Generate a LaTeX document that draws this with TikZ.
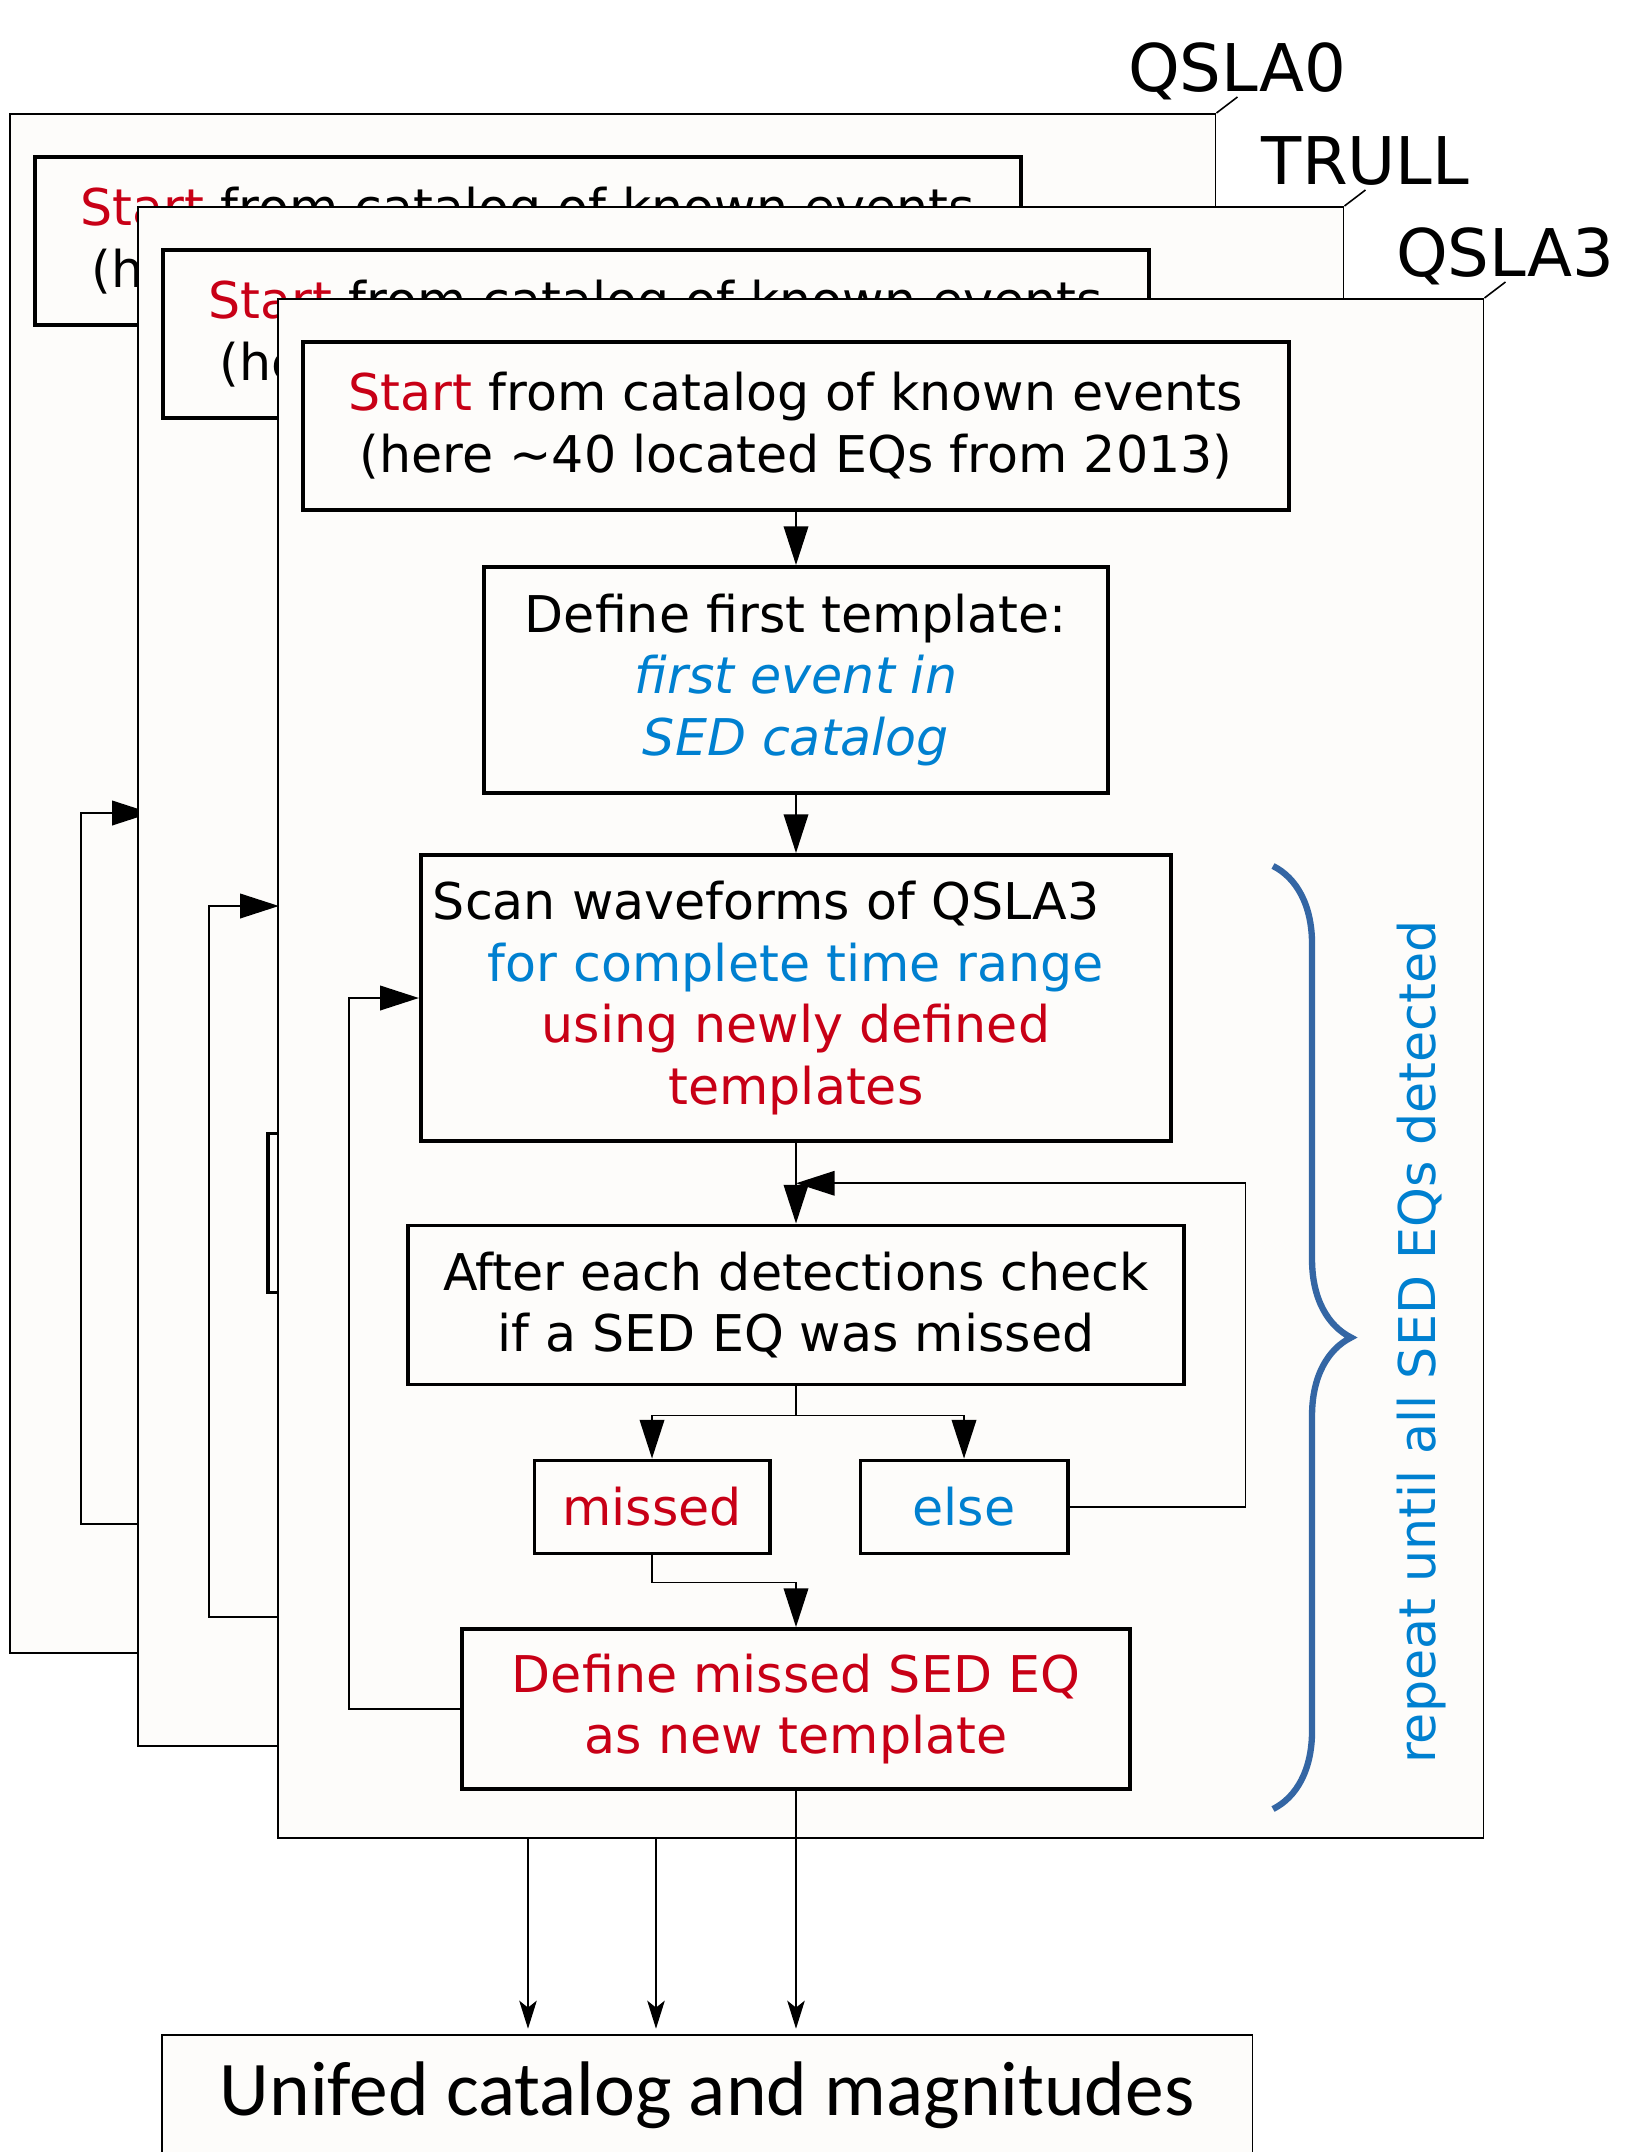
\documentclass[tikz,border=0pt]{standalone}
\usepackage{fontspec}
\setmainfont{DejaVu Sans}
\newfontfamily\calfont{Carlito}
\usetikzlibrary{arrows.meta,decorations.pathreplacing}

\definecolor{sedred}{RGB}{200,0,22}
\definecolor{sedblue}{RGB}{0,128,208}
\definecolor{bracecol}{RGB}{52,102,164}
\definecolor{paper}{RGB}{253,252,250}

\newcommand{\flowfont}{\fontsize{14.4}{17.6}\selectfont}
\newcommand{\labfont}{\fontsize{18.7}{22}\selectfont}

\tikzset{
  flowbox/.style={draw, line width=1.1pt, fill=paper, align=center, inner sep=0pt, font=\flowfont},
  layerframe/.style={draw, line width=0.5pt, fill=paper, inner sep=0pt, anchor=north west,
    minimum width=12.05cm, minimum height=15.38cm},
  link/.style={line width=0.45pt},
  flow/.style={link, -{Triangle[length=11pt,width=7pt]}},
  merge/.style={link, -{Stealth[length=8pt,width=5pt,inset=2pt]}, shorten >=1.5pt},
  layerlabel/.style={font=\labfont, anchor=base, inner sep=0pt, yshift=1.5pt},
}

\begin{document}
\begin{tikzpicture}[x=0.01cm, y=-0.01cm]
\useasboundingbox (0,0) rectangle (1637,2152);

% merged result
\node[draw, line width=0.5pt, fill=paper, anchor=north west, minimum width=10.9cm,
      text height=23pt, text depth=21.3pt, inner ysep=0pt, font=\calfont\fontsize{22}{26}\selectfont]
  (unified) at (161,2034) {Unifed catalog and magnitudes};

% one sheet per station, back to front (texts of covered boxes left out)
\foreach \name/\dx/\dy/\front in {QSLA0/-268/-185/0, TRULL/-140/-92/0, QSLA3/0/0/1}{
  \begin{scope}[shift={(\dx,\dy)}]
    \node[layerframe] (\name-frame) at (277,298) {};
    \draw[link] (\name-frame.north east) -- ++(21,-16) coordinate (\name-lead);
    \node[layerlabel] (\name-label) at (\name-lead) {\name};

    \node[flowbox, minimum width=9.86cm, minimum height=1.68cm] (\name-start) at (796,426)
      {\textcolor{sedred}{Start} from catalog of known events\\(here \textasciitilde40 located EQs from 2013)};
    \node[flowbox, minimum width=6.23cm, minimum height=2.26cm] (\name-first) at (796,680)
      {\ifnum\front=1 Define first template:\\\textcolor{sedblue}{\itshape first event in}\\
       \textcolor{sedblue}{\itshape SED catalog}\fi};
    \node[flowbox, minimum width=7.5cm, minimum height=2.86cm] (\name-scan) at (796,998)
      {\ifnum\front=1 Scan waveforms of \name\hspace*{17pt}\\\textcolor{sedblue}{for complete time range}\\
       \textcolor{sedred}{using newly defined}\\\textcolor{sedred}{templates}\fi};
    \node[flowbox, minimum width=7.75cm, minimum height=1.59cm] (\name-after) at (796,1305)
      {\ifnum\front=1 After each detections check\\if a SED EQ was missed\fi};
    \node[flowbox, minimum width=2.35cm, minimum height=0.93cm, text=sedred] (\name-missed) at (652,1507)
      {\ifnum\front=1 missed\fi};
    \node[flowbox, minimum width=2.07cm, minimum height=0.93cm, text=sedblue] (\name-else) at (964,1507)
      {\ifnum\front=1 else\fi};
    \node[flowbox, minimum width=6.68cm, minimum height=1.6cm, text=sedred] (\name-newtmpl) at (796,1709)
      {\ifnum\front=1 Define missed SED EQ\\as new template\fi};

    \path (\name-scan.south) -- (\name-after.north) coordinate[pos=0.5] (\name-join);
    \draw[flow] (\name-start.south) -- (\name-first.north);
    \draw[flow] (\name-first.south) -- (\name-scan.north);
    \draw[flow] (\name-scan.south) -- (\name-after.north);
    \draw[link] (\name-after.south) -- ++(0,29) coordinate (\name-fork);
    \draw[flow] (\name-fork) -| (\name-missed.north);
    \draw[flow] (\name-fork) -| (\name-else.north);
    \draw[flow] (\name-missed.south) -- ++(0,27) -| (\name-newtmpl.north);
    \draw[flow] (\name-newtmpl.west) -- ++(-111,0) |- (\name-scan.west);
    \draw[flow] (\name-else.east) -- ++(176,0) |- (\name-join);
  \end{scope}
  \draw[merge] (\name-newtmpl.south) -- (\name-newtmpl.south |- unified.north);
}

% loop note on the front sheet
\draw[bracecol, line width=1.8pt, decorate, decoration={brace, amplitude=0.78cm}]
  (1273,866) -- (1273,1809);
\node[rotate=90, text=sedblue, font=\flowfont] (repeat) at (1422,1342) {repeat until all SED EQs detected};
\end{tikzpicture}
\end{document}
